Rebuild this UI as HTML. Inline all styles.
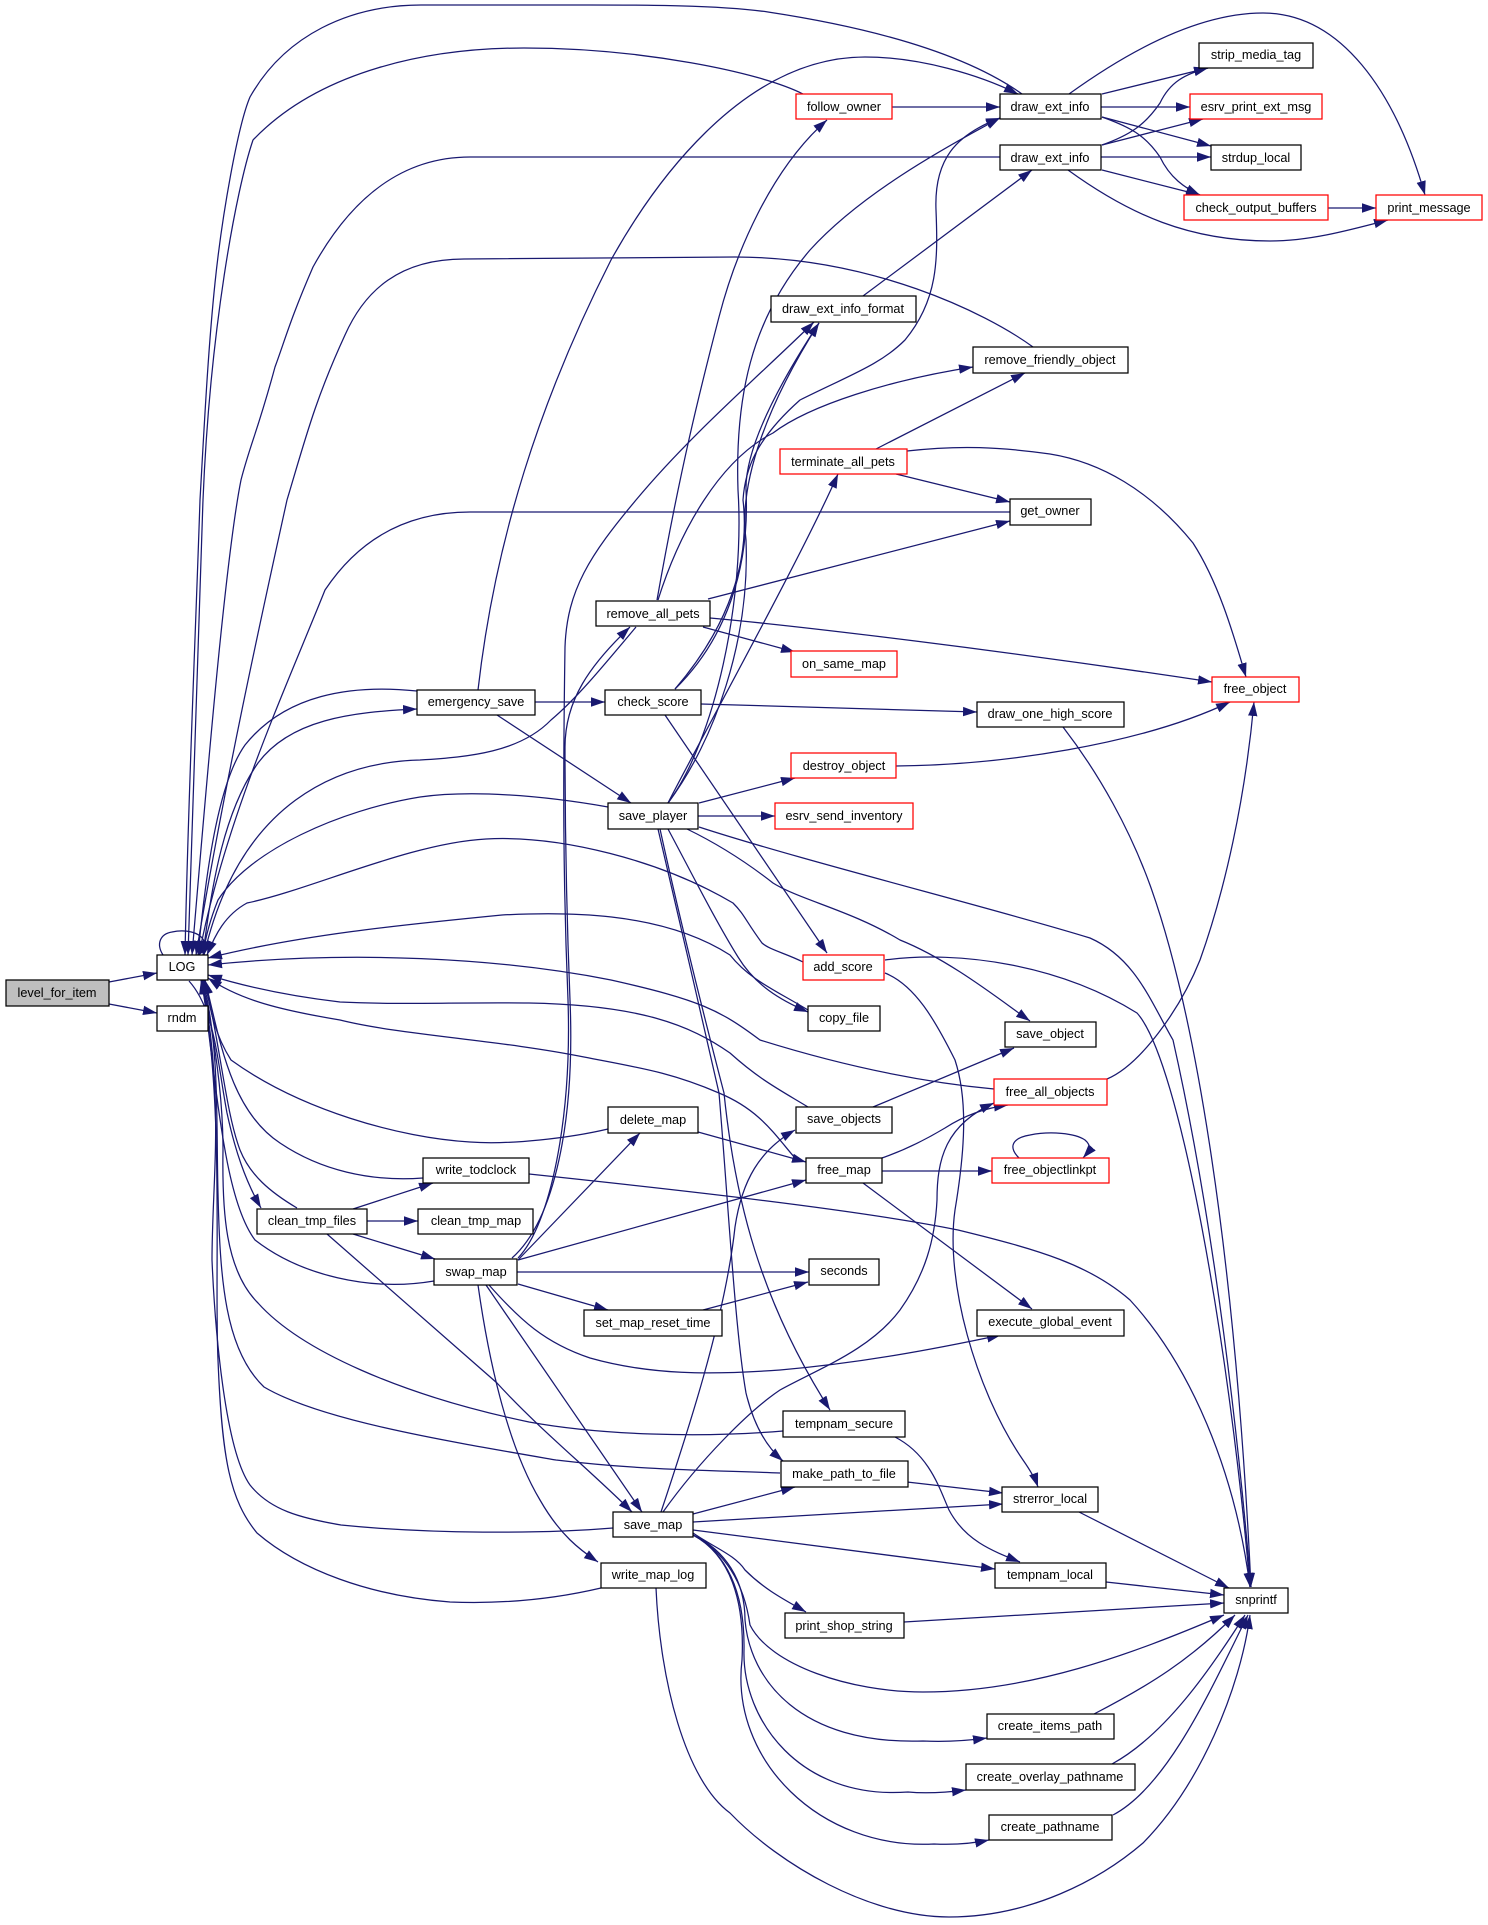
<!DOCTYPE html>
<html><head><meta charset="utf-8"><title>level_for_item call graph</title>
<style>
html,body{margin:0;padding:0;background:#fff}
svg{display:block}
.e{fill:none;stroke:#191970;stroke-width:1.25;marker-end:url(#a)}
.b{fill:#fff;stroke:#000;stroke-width:1.25}
.r{fill:#fff;stroke:#f00;stroke-width:1.25}
text{font-family:"Liberation Sans",sans-serif;font-size:12.7px;text-anchor:middle;fill:#000}
</style></head><body>
<svg xmlns="http://www.w3.org/2000/svg" width="1488" height="1925" viewBox="0 0 1488 1925">
<defs><marker id="a" markerUnits="userSpaceOnUse" markerWidth="14" markerHeight="10" viewBox="0 0 14 10" refX="14" refY="5" orient="auto"><path d="M0,0.3L14,5L0,9.7z" fill="#191970"/></marker></defs>
<g>
<path class="e" d="M109,982L157,973"/>
<path class="e" d="M109,1004L157,1013"/>
<path class="e" d="M163,955C156,944 160,934 172,932C185,929 200,932 204,941C205,946 203,950 199,955"/>
<path class="e" d="M1022,94C960,50 860,26 768,12C720,5 640,5 590,5L421,5C350,5 285,35 250,97C238,125 222,215 215,283C208,350 204,430 200,500C195,650 188,800 185,955"/>
<path class="e" d="M803,94C760,72 640,48 524,48C430,48 320,70 253,140C236,190 210,330 203,500C197,650 192,800 188,955"/>
<path class="e" d="M1000,157L470,157C400,157 350,200 313,267C290,320 285,340 275,367C258,430 250,445 241,480C225,560 205,800 192,955"/>
<path class="e" d="M1033,347C985,312 870,257 735,257L464,259C400,259 365,290 345,335C315,400 305,440 287,500C265,600 225,780 196,955"/>
<path class="e" d="M1010,512L470,512C400,512 355,545 325,590C285,690 225,820 199,955"/>
<path class="e" d="M417,691C350,684 285,695 245,745C220,780 207,860 198,955"/>
<path class="e" d="M203,955C212,880 225,810 258,763C290,720 350,712 417,709"/>
<path class="e" d="M636,627C600,670 575,700 551,720C520,752 470,757 420,760C340,762 240,800 204,955"/>
<path class="e" d="M608,807C540,795 470,790 420,797C340,810 250,850 218,900C210,920 205,940 203,955"/>
<path class="e" d="M803,962C785,953 770,950 762,943C745,920 745,915 733,903C660,860 560,835 486,839C410,843 310,890 247,903C225,915 215,935 207,955"/>
<path class="e" d="M808,1010C775,990 750,980 730,955C660,910 560,912 502,915C400,925 300,935 208,958"/>
<path class="e" d="M994,1089C920,1082 840,1065 760,1040C720,1010 700,1000 611,980C500,958 350,950 208,965"/>
<path class="e" d="M808,1107C780,1090 760,1080 730,1053C690,1025 640,1005 529,1003C460,1002 400,1005 340,1002C280,995 240,985 208,975"/>
<path class="e" d="M795,1158C775,1135 760,1110 719,1093C670,1072 640,1068 584,1057C500,1040 400,1035 340,1020C280,1010 240,1000 208,978"/>
<path class="e" d="M608,1129C570,1138 510,1145 470,1142C400,1138 300,1110 231,1060C215,1035 210,1010 205,980"/>
<path class="e" d="M423,1178C370,1182 320,1170 280,1143C230,1110 220,1040 205,980"/>
<path class="e" d="M297,1208C270,1192 250,1175 240,1150C225,1110 220,1040 204,980"/>
<path class="e" d="M189,981C215,1010 217,1060 227,1113C235,1150 245,1180 261,1208"/>
<path class="e" d="M434,1281C370,1292 300,1275 255,1240C225,1200 218,1100 202,980"/>
<path class="e" d="M783,1431C700,1438 600,1435 529,1422C400,1395 300,1350 258,1303C225,1270 222,1210 223,1150C223,1100 215,1040 202,980"/>
<path class="e" d="M780,1473C700,1470 640,1470 556,1460C440,1440 320,1420 264,1387C225,1350 220,1280 218,1193C216,1120 220,1050 203,980"/>
<path class="e" d="M613,1528C540,1534 430,1534 341,1525C300,1518 270,1510 250,1485C225,1450 215,1330 212,1260C212,1180 225,1100 202,980"/>
<path class="e" d="M601,1588C550,1600 500,1604 450,1602C370,1596 300,1570 257,1533C230,1500 222,1460 218,1360C214,1270 225,1100 201,980"/>
<path class="e" d="M892,107L1000,107"/>
<path class="e" d="M478,690C495,540 540,400 611,260C650,190 740,57 865,57C920,57 980,75 1018,94"/>
<path class="e" d="M657,600C680,470 700,390 719,317C735,255 770,170 827,120"/>
<path class="e" d="M675,689C730,625 750,560 743,500C745,470 755,440 800,400C850,375 880,365 905,340C938,300 938,260 936,210C934,160 955,135 1000,118"/>
<path class="e" d="M668,803C715,740 745,600 738,490C735,400 750,320 810,250C860,195 940,150 1000,118"/>
<path class="e" d="M675,689C725,640 750,570 746,490C745,450 775,390 819,323"/>
<path class="e" d="M668,803C715,740 750,640 746,540C738,480 770,400 819,323"/>
<path class="e" d="M512,1258C555,1220 575,1120 570,1000C566,900 565,820 565,747C565,700 590,665 630,627"/>
<path class="e" d="M518,1258C550,1225 572,1120 568,1000C563,880 563,780 565,647C567,590 590,555 636,500C690,435 760,375 814,322"/>
<path class="e" d="M863,296L1032,170"/>
<path class="e" d="M658,600C680,530 720,460 773,433C810,405 890,380 973,367"/>
<path class="e" d="M876,449L1025,373"/>
<path class="e" d="M907,451C960,445 1000,447 1050,454C1100,462 1150,490 1193,543C1220,585 1235,640 1246,677"/>
<path class="e" d="M896,474L1010,502"/>
<path class="e" d="M708,599L1010,521"/>
<path class="e" d="M703,627L795,652"/>
<path class="e" d="M710,618C800,626 1000,650 1212,682"/>
<path class="e" d="M701,704L977,712"/>
<path class="e" d="M665,715L827,953"/>
<path class="e" d="M535,702L605,702"/>
<path class="e" d="M497,715L631,803"/>
<path class="e" d="M668,803C700,740 800,560 838,474"/>
<path class="e" d="M699,803L795,778"/>
<path class="e" d="M698,816L775,816"/>
<path class="e" d="M896,766C1000,765 1140,745 1230,702"/>
<path class="e" d="M1107,1079C1140,1065 1180,1010 1200,960C1225,890 1245,800 1254,702"/>
<path class="e" d="M1063,727C1100,775 1130,830 1150,885C1195,1010 1235,1250 1251,1587"/>
<path class="e" d="M699,827C800,860 1000,910 1090,938C1135,958 1150,1000 1173,1040C1200,1160 1230,1340 1251,1587"/>
<path class="e" d="M885,960C960,950 1060,965 1137,1013C1180,1060 1230,1350 1250,1587"/>
<path class="e" d="M529,1174C680,1190 860,1210 958,1230C1040,1250 1090,1265 1130,1300C1190,1365 1235,1470 1250,1587"/>
<path class="e" d="M687,829C720,845 750,865 773,883C800,900 850,910 900,940C950,960 1000,1000 1030,1021"/>
<path class="e" d="M658,829C675,900 700,1010 719,1093C728,1200 735,1330 746,1393C755,1430 770,1450 783,1461"/>
<path class="e" d="M660,829C680,920 705,1020 724,1093C735,1200 760,1300 830,1410"/>
<path class="e" d="M668,829C690,870 715,920 738,957C755,985 780,1000 808,1012"/>
<path class="e" d="M873,1107L1014,1048"/>
<path class="e" d="M698,1132L806,1162"/>
<path class="e" d="M518,1260L806,1180"/>
<path class="e" d="M882,1158C905,1150 925,1140 945,1128C965,1115 985,1108 1008,1105"/>
<path class="e" d="M882,1171L992,1171"/>
<path class="e" d="M863,1183L1032,1309"/>
<path class="e" d="M1019,1158C1008,1147 1012,1138 1030,1135C1050,1131 1075,1133 1085,1140C1092,1146 1090,1150 1083,1158"/>
<path class="e" d="M353,1209L433,1183"/>
<path class="e" d="M367,1221L418,1221"/>
<path class="e" d="M353,1234L435,1259"/>
<path class="e" d="M327,1234L497,1383C540,1430 590,1470 632,1512"/>
<path class="e" d="M486,1285L642,1512"/>
<path class="e" d="M478,1285C490,1370 510,1450 540,1500C560,1535 580,1550 598,1562"/>
<path class="e" d="M489,1285C520,1320 545,1343 590,1358C650,1375 710,1375 780,1370C860,1363 930,1350 1001,1335"/>
<path class="e" d="M518,1284L608,1310"/>
<path class="e" d="M517,1272L809,1272"/>
<path class="e" d="M703,1310L808,1282"/>
<path class="e" d="M518,1260L640,1133"/>
<path class="e" d="M663,1512C700,1460 750,1410 780,1390C820,1368 870,1350 900,1310C925,1275 935,1240 937,1200C937,1160 945,1125 994,1103"/>
<path class="e" d="M661,1512C685,1440 725,1320 735,1227C742,1180 760,1150 795,1130"/>
<path class="e" d="M885,973C915,985 935,1020 955,1060C968,1100 965,1150 955,1210C945,1280 975,1390 1023,1460C1030,1470 1035,1478 1038,1487"/>
<path class="e" d="M693,1514L795,1487"/>
<path class="e" d="M693,1522L1003,1504"/>
<path class="e" d="M693,1530L995,1569"/>
<path class="e" d="M693,1533C715,1548 735,1555 745,1570C765,1590 785,1600 806,1612"/>
<path class="e" d="M693,1535C725,1550 745,1580 745,1620C750,1680 800,1745 923,1741C945,1742 965,1741 987,1738"/>
<path class="e" d="M693,1535C725,1552 745,1590 744,1650C742,1720 800,1800 908,1792C930,1794 950,1792 966,1790"/>
<path class="e" d="M693,1535C730,1555 745,1600 742,1660C730,1760 820,1850 934,1844C955,1845 975,1843 989,1840"/>
<path class="e" d="M693,1535C730,1555 745,1590 750,1625C770,1665 850,1692 923,1692C1030,1692 1130,1655 1224,1615"/>
<path class="e" d="M907,1482L1003,1493"/>
<path class="e" d="M895,1437C930,1455 940,1490 949,1510C965,1540 990,1550 1020,1562"/>
<path class="e" d="M1079,1512L1229,1588"/>
<path class="e" d="M1106,1582L1224,1595"/>
<path class="e" d="M904,1622L1224,1603"/>
<path class="e" d="M1094,1714C1150,1685 1190,1660 1235,1615"/>
<path class="e" d="M1112,1764C1165,1735 1210,1670 1245,1615"/>
<path class="e" d="M1113,1815C1170,1785 1215,1680 1248,1615"/>
<path class="e" d="M656,1588C660,1680 685,1780 730,1813C780,1865 870,1917 949,1917C1030,1917 1100,1880 1143,1843C1200,1785 1240,1690 1250,1615"/>
<path class="e" d="M1102,94L1208,68"/>
<path class="e" d="M1101,107L1190,107"/>
<path class="e" d="M1102,117L1211,146"/>
<path class="e" d="M1102,117C1130,127 1145,135 1160,157C1170,178 1185,188 1200,195"/>
<path class="e" d="M1069,94C1130,50 1200,13 1263,13C1340,13 1395,90 1425,195"/>
<path class="e" d="M1102,145C1130,135 1145,125 1160,103C1170,82 1185,74 1208,68"/>
<path class="e" d="M1102,145L1203,119"/>
<path class="e" d="M1101,157L1211,157"/>
<path class="e" d="M1102,170L1200,195"/>
<path class="e" d="M1068,170C1130,215 1190,241 1270,241C1310,241 1350,230 1388,220"/>
<path class="e" d="M1328,208L1376,208"/>
</g>
<g>
<rect x="6" y="980" width="103" height="26" fill="#bfbfbf" stroke="#000" stroke-width="1.25"/><text x="57" y="997">level_for_item</text>
<rect class="b" x="157" y="955" width="51" height="25"/><text x="182" y="971">LOG</text>
<rect class="b" x="157" y="1006" width="51" height="25"/><text x="182" y="1022">rndm</text>
<rect class="r" x="796" y="94" width="96" height="25"/><text x="844" y="111">follow_owner</text>
<rect class="b" x="1000" y="94" width="101" height="25"/><text x="1050" y="111">draw_ext_info</text>
<rect class="b" x="1000" y="145" width="101" height="25"/><text x="1050" y="162">draw_ext_info</text>
<rect class="b" x="1199" y="43" width="114" height="25"/><text x="1256" y="59">strip_media_tag</text>
<rect class="r" x="1190" y="94" width="132" height="25"/><text x="1256" y="111">esrv_print_ext_msg</text>
<rect class="b" x="1211" y="145" width="90" height="25"/><text x="1256" y="162">strdup_local</text>
<rect class="r" x="1184" y="195" width="144" height="25"/><text x="1256" y="212">check_output_buffers</text>
<rect class="r" x="1376" y="195" width="106" height="25"/><text x="1429" y="212">print_message</text>
<rect class="b" x="771" y="296" width="145" height="26"/><text x="843" y="313">draw_ext_info_format</text>
<rect class="b" x="973" y="347" width="155" height="26"/><text x="1050" y="364">remove_friendly_object</text>
<rect class="r" x="780" y="449" width="127" height="25"/><text x="843" y="466">terminate_all_pets</text>
<rect class="b" x="1010" y="499" width="81" height="26"/><text x="1050" y="515">get_owner</text>
<rect class="b" x="596" y="601" width="114" height="25"/><text x="653" y="618">remove_all_pets</text>
<rect class="r" x="791" y="651" width="106" height="26"/><text x="844" y="668">on_same_map</text>
<rect class="r" x="1212" y="677" width="87" height="25"/><text x="1255" y="693">free_object</text>
<rect class="b" x="417" y="690" width="118" height="25"/><text x="476" y="706">emergency_save</text>
<rect class="b" x="605" y="690" width="96" height="25"/><text x="653" y="706">check_score</text>
<rect class="b" x="977" y="702" width="147" height="25"/><text x="1050" y="718">draw_one_high_score</text>
<rect class="r" x="791" y="753" width="105" height="25"/><text x="844" y="770">destroy_object</text>
<rect class="b" x="608" y="803" width="90" height="26"/><text x="653" y="820">save_player</text>
<rect class="r" x="775" y="803" width="138" height="26"/><text x="844" y="820">esrv_send_inventory</text>
<rect class="r" x="803" y="955" width="81" height="25"/><text x="843" y="971">add_score</text>
<rect class="b" x="808" y="1006" width="72" height="25"/><text x="844" y="1022">copy_file</text>
<rect class="b" x="1005" y="1022" width="91" height="25"/><text x="1050" y="1038">save_object</text>
<rect class="r" x="994" y="1079" width="113" height="26"/><text x="1050" y="1096">free_all_objects</text>
<rect class="b" x="796" y="1107" width="96" height="26"/><text x="844" y="1123">save_objects</text>
<rect class="b" x="608" y="1107" width="90" height="26"/><text x="653" y="1124">delete_map</text>
<rect class="b" x="423" y="1158" width="106" height="25"/><text x="476" y="1174">write_todclock</text>
<rect class="b" x="806" y="1158" width="76" height="25"/><text x="844" y="1174">free_map</text>
<rect class="r" x="992" y="1158" width="117" height="25"/><text x="1050" y="1174">free_objectlinkpt</text>
<rect class="b" x="257" y="1209" width="110" height="25"/><text x="312" y="1225">clean_tmp_files</text>
<rect class="b" x="418" y="1209" width="115" height="25"/><text x="476" y="1225">clean_tmp_map</text>
<rect class="b" x="434" y="1259" width="83" height="26"/><text x="476" y="1276">swap_map</text>
<rect class="b" x="809" y="1259" width="70" height="26"/><text x="844" y="1275">seconds</text>
<rect class="b" x="584" y="1310" width="138" height="26"/><text x="653" y="1327">set_map_reset_time</text>
<rect class="b" x="977" y="1310" width="147" height="26"/><text x="1050" y="1326">execute_global_event</text>
<rect class="b" x="783" y="1411" width="122" height="26"/><text x="844" y="1428">tempnam_secure</text>
<rect class="b" x="781" y="1461" width="127" height="26"/><text x="844" y="1478">make_path_to_file</text>
<rect class="b" x="1002" y="1487" width="96" height="25"/><text x="1050" y="1503">strerror_local</text>
<rect class="b" x="613" y="1512" width="80" height="25"/><text x="653" y="1529">save_map</text>
<rect class="b" x="995" y="1563" width="111" height="25"/><text x="1050" y="1579">tempnam_local</text>
<rect class="b" x="601" y="1563" width="105" height="25"/><text x="653" y="1579">write_map_log</text>
<rect class="b" x="1224" y="1588" width="64" height="25"/><text x="1256" y="1604">snprintf</text>
<rect class="b" x="785" y="1613" width="119" height="25"/><text x="844" y="1630">print_shop_string</text>
<rect class="b" x="987" y="1714" width="127" height="25"/><text x="1050" y="1730">create_items_path</text>
<rect class="b" x="966" y="1764" width="169" height="26"/><text x="1050" y="1781">create_overlay_pathname</text>
<rect class="b" x="989" y="1815" width="123" height="25"/><text x="1050" y="1831">create_pathname</text>
</g>
</svg>
</body></html>
